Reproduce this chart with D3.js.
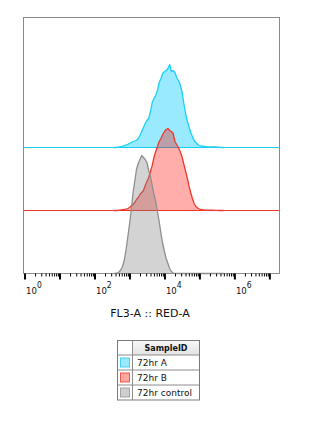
<!DOCTYPE html>
<html>
<head>
<meta charset="utf-8">
<script src="https://cdn.jsdelivr.net/npm/d3@7"></script>
<style>
  html, body { margin: 0; padding: 0; background: #fff; }
  svg { display: block; }
</style>
</head>
<body>
<svg id="chart" width="322" height="445"></svg>
<script>
// Log10 bin centres of the FL3-A histograms
const bins = [2.55, 2.60, 2.65, 2.70, 2.75, 2.80, 2.85, 2.90, 2.95, 3.00,
              3.05, 3.10, 3.15, 3.20, 3.25, 3.30, 3.35, 3.40, 3.45, 3.50,
              3.55, 3.60, 3.65, 3.70, 3.75, 3.80, 3.85, 3.90, 3.95, 4.00,
              4.05, 4.10, 4.15, 4.20, 4.25, 4.30, 4.35, 4.40, 4.45, 4.50,
              4.55, 4.60, 4.65, 4.70, 4.75, 4.80, 4.85, 4.90, 4.95, 5.00,
              5.05, 5.10, 5.15, 5.20, 5.25, 5.30, 5.35, 5.40, 5.45, 5.50,
              5.55, 5.60, 5.65, 5.70];

// Event counts per bin for each sample
const countsA = [0, 0, 0.2, 0.5, 0.8, 1.2, 1.8, 2.5, 3.2, 4,
                 5, 6, 6.5, 7, 9, 12, 16, 20, 24, 27,
                 29, 36, 45, 49, 52, 57, 65, 69, 74, 76,
                 77, 79, 83, 76, 77, 75, 70, 67, 63, 56,
                 45, 35, 27, 21, 15, 11, 7, 5, 3, 2,
                 1.5, 1.2, 1, 0.8, 0.7, 0.6, 0.6, 0.5, 0.5, 0.4,
                 0.3, 0.2, 0, 0];
const countsB = [0, 0, 0, 0.3, 0.5, 0.8, 1, 1.5, 2, 3,
                 4.5, 6, 8, 11, 13, 16, 18, 20, 25, 29,
                 33, 39, 45, 53, 59, 64, 69, 72, 76, 79,
                 81, 82, 80, 79, 77, 69, 66, 63, 59, 54,
                 47, 40, 33, 25, 18, 12, 7, 4, 2.5, 1.5,
                 1, 0.7, 0.5, 0.4, 0.4, 0.3, 0.3, 0.3, 0.2, 0.2,
                 0, 0, 0, 0];
const countsControl = [0, 0, 0.3, 1.5, 3.5, 7, 13, 23, 36, 49,
                       63, 80, 92, 104, 110, 114, 118, 116, 114, 111,
                       103, 97, 88, 79, 72, 62, 52, 40, 30, 22,
                       15, 10, 5, 2, 0.5, 0, 0, 0, 0, 0,
                       0, 0, 0, 0, 0, 0, 0, 0, 0, 0,
                       0, 0, 0, 0, 0, 0, 0, 0, 0, 0,
                       0, 0, 0, 0];

const sampleNames = ["72hr A", "72hr B", "72hr control"];
const sampleCounts = [countsA, countsB, countsControl];
const strokeColors = ["#1ccff4", "#ee3a2c", "#8f8f8f"];
const fillColors = ["rgba(0,200,255,0.40)", "rgba(255,10,0,0.33)", "rgba(128,128,128,0.35)"];
const swatchFills = ["#9beafc", "#fda79f", "#cfcfcf"];
const swatchStrokes = ["#3fd2f2", "#f0554a", "#a3a3a3"];

// Decades on the axis and which of them carry a label
const majorDecades = [0, 1, 2, 3, 4, 5, 6, 7];
const labelledDecades = [0, 2, 4, 6];
const axisTitle = "FL3-A :: RED-A";
const legendTitle = "SampleID";

(function draw() {
  const svg = d3.select("#chart");
  const plotLeft = 23.5, plotRight = 279.5, plotTop = 17.5, plotBottom = 273.5;

  const x = d3.scaleLog()
    .domain([Math.pow(10, -0.03), Math.pow(10, 7.29)])
    .range([plotLeft, plotRight]);
  const y = d3.scaleLinear().domain([0, 256]).range([plotBottom, plotTop]);
  const laneOffset = 63; // stagger between stacked histograms, in count units

  // plot frame
  svg.append("rect")
    .attr("x", plotLeft).attr("y", plotTop)
    .attr("width", plotRight - plotLeft).attr("height", plotBottom - plotTop)
    .attr("fill", "none").attr("stroke", "#8a8a8a").attr("stroke-width", 1);

  const plot = svg.append("g");
  // top sample drawn first, control last (front)
  const nLanes = sampleNames.length;
  sampleNames.forEach((name, i) => {
    const offset = (nLanes - 1 - i) * laneOffset;
    const pts = bins.map((b, k) => [Math.pow(10, b), sampleCounts[i][k]]);
    const area = d3.area()
      .x(d => x(d[0]))
      .y0(y(offset))
      .y1(d => y(offset + d[1]));
    const line = d3.line()
      .x(d => x(d[0]))
      .y(d => y(offset + d[1]));
    plot.append("line")
      .attr("x1", plotLeft).attr("x2", plotRight)
      .attr("y1", y(offset)).attr("y2", y(offset))
      .attr("stroke", strokeColors[i]).attr("stroke-width", 1.1);
    plot.append("path")
      .datum(pts)
      .attr("d", area)
      .attr("fill", fillColors[i]);
    plot.append("path")
      .datum(pts)
      .attr("d", line)
      .attr("fill", "none")
      .attr("stroke", strokeColors[i])
      .attr("stroke-width", 1.3)
      .attr("stroke-linejoin", "round");
  });

  // minor ticks (2..9 in each decade)
  const minorTicks = [];
  majorDecades.forEach(d => {
    for (let m = 2; m <= 9; m++) {
      const v = m * Math.pow(10, d);
      if (v <= x.domain()[1]) minorTicks.push(v);
    }
  });
  const minorAxis = d3.axisBottom(x).tickValues(minorTicks).tickSize(3).tickFormat("");
  const gMinor = svg.append("g").attr("transform", `translate(0,${plotBottom})`).call(minorAxis);
  gMinor.select(".domain").remove();
  gMinor.selectAll("line").attr("stroke", "#000").attr("stroke-width", 1);

  const majorAxis = d3.axisBottom(x)
    .tickValues(majorDecades.map(d => Math.pow(10, d)))
    .tickSize(6).tickFormat("");
  const gMajor = svg.append("g").attr("transform", `translate(0,${plotBottom})`).call(majorAxis);
  gMajor.select(".domain").remove();
  gMajor.selectAll("line").attr("stroke", "#000").attr("stroke-width", 2);

  // decade labels with superscript exponents
  const labelG = svg.append("g")
    .attr("font-family", "'Liberation Sans Narrow', 'DejaVu Sans Condensed', 'Liberation Sans', sans-serif")
    .attr("fill", "#111");
  labelledDecades.forEach(d => {
    const t = labelG.append("text")
      .attr("x", x(Math.pow(10, d)) + 1.5)
      .attr("y", 294)
      .attr("font-size", 9.5);
    t.append("tspan").text("10");
    t.append("tspan").attr("dy", -6).attr("font-size", 8.5).text(String(d));
  });

  svg.append("text")
    .attr("x", 150).attr("y", 317)
    .attr("text-anchor", "middle")
    .attr("font-family", "'DejaVu Sans', sans-serif")
    .attr("font-size", 11)
    .attr("fill", "#111")
    .text(axisTitle);

  // legend table
  const lg = svg.append("g").attr("font-family", "'DejaVu Sans', sans-serif");
  const tx0 = 117.5, tx1 = 132.5, tx2 = 199.5;
  const ty0 = 340.5, headerH = 14.5, rowH = 15;
  const defs = svg.append("defs");
  const grad = defs.append("linearGradient").attr("id", "hdr")
    .attr("x1", 0).attr("x2", 0).attr("y1", 0).attr("y2", 1);
  grad.append("stop").attr("offset", "0%").attr("stop-color", "#f7f7f7");
  grad.append("stop").attr("offset", "100%").attr("stop-color", "#e3e3e3");

  lg.append("rect")
    .attr("x", tx1).attr("y", ty0).attr("width", tx2 - tx1).attr("height", headerH)
    .attr("fill", "url(#hdr)");
  lg.append("text")
    .attr("x", (tx1 + tx2) / 2).attr("y", ty0 + 10.5)
    .attr("text-anchor", "middle")
    .attr("font-size", 8).attr("font-weight", "bold").attr("fill", "#111")
    .text(legendTitle);

  const tyEnd = ty0 + headerH + rowH * sampleNames.length;
  sampleNames.forEach((name, i) => {
    const ry = ty0 + headerH + rowH * i;
    lg.append("rect")
      .attr("x", 120.5).attr("y", ry + 3)
      .attr("width", 9).attr("height", 9)
      .attr("fill", swatchFills[i]).attr("stroke", swatchStrokes[i]).attr("stroke-width", 1);
    lg.append("text")
      .attr("x", 137).attr("y", ry + 11)
      .attr("font-size", 9).attr("fill", "#111")
      .text(name);
  });
  // grid lines
  const gridColor = "#8c8c8c";
  [ty0 + headerH, ty0 + headerH + rowH, ty0 + headerH + rowH * 2].forEach(yy => {
    lg.append("line").attr("x1", tx0).attr("x2", tx2).attr("y1", yy).attr("y2", yy)
      .attr("stroke", gridColor).attr("stroke-width", 1);
  });
  lg.append("line").attr("x1", tx1).attr("x2", tx1).attr("y1", ty0).attr("y2", tyEnd)
    .attr("stroke", gridColor).attr("stroke-width", 1);
  lg.append("rect")
    .attr("x", tx0).attr("y", ty0).attr("width", tx2 - tx0).attr("height", tyEnd - ty0)
    .attr("fill", "none").attr("stroke", "#7a7a7a").attr("stroke-width", 1);
})();
</script>
</body>
</html>
